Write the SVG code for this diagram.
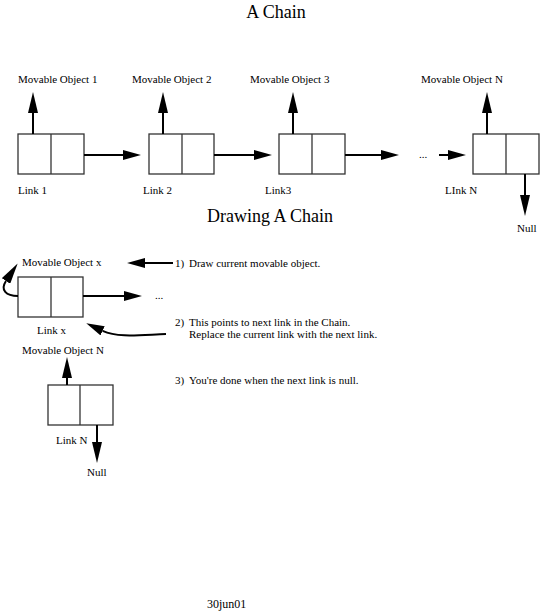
<svg xmlns="http://www.w3.org/2000/svg" width="552" height="612" viewBox="0 0 552 612" font-family="'Liberation Serif', 'DejaVu Serif', serif">
<style>
text{font-family:'Liberation Serif','DejaVu Serif',serif;font-size:11px;fill:#000}
.title{font-size:18px}
.box{fill:#fff;stroke:#333;stroke-width:1.3}
.arr{fill:none;stroke:#000;stroke-width:2}
.av{marker-end:url(#arrowV)}
.ah{marker-end:url(#arrowH)}
</style>
<defs>
<marker id="arrowV" markerUnits="userSpaceOnUse" markerWidth="21" markerHeight="10" viewBox="0 0 21 10" refX="0" refY="5" orient="auto"><path d="M0,0 L21,5 L0,10 z" fill="#000"/></marker>
<marker id="arrowH" markerUnits="userSpaceOnUse" markerWidth="18" markerHeight="10" viewBox="0 0 18 10" refX="0" refY="5" orient="auto"><path d="M0,0 L18,5 L0,10 z" fill="#000"/></marker>
</defs>
<text class="title" x="276" y="18" text-anchor="middle" font-family="Liberation Serif">A Chain</text>
<text class="title" x="270" y="222" text-anchor="middle" font-family="Liberation Serif">Drawing A Chain</text>

<g id="link1" font-family="Liberation Serif"><rect class="box" x="18" y="134" width="66" height="40"/><line class="box" x1="51" y1="134" x2="51" y2="174"/><text x="18" y="194">Link 1</text><text x="18" y="83">Movable Object 1</text></g>
<g id="link2" font-family="Liberation Serif"><rect class="box" x="149" y="134" width="65" height="40"/><line class="box" x1="182" y1="134" x2="182" y2="174"/><text x="143" y="194">Link 2</text><text x="132" y="83">Movable Object 2</text></g>
<g id="link3" font-family="Liberation Serif"><rect class="box" x="279" y="134" width="66" height="40"/><line class="box" x1="312" y1="134" x2="312" y2="174"/><text x="265" y="194">Link3</text><text x="250" y="83">Movable Object 3</text></g>
<g id="linkN" font-family="Liberation Serif"><rect class="box" x="473" y="134" width="66" height="40"/><line class="box" x1="506" y1="134" x2="506" y2="174"/><text x="445" y="194">LInk N</text><text x="421" y="83">Movable Object N</text><text x="517" y="232">Null</text></g>
<g id="dots1" font-family="Liberation Serif"><text x="419" y="158">...</text></g>

<g id="linkx" font-family="Liberation Serif"><rect class="box" x="18" y="277" width="65" height="40"/><line class="box" x1="51" y1="277" x2="51" y2="317"/><text x="22" y="266">Movable Object x</text><text x="37" y="334">Link x</text><text x="155" y="299">...</text></g>
<g id="linkN2" font-family="Liberation Serif"><rect class="box" x="48" y="385" width="65" height="40"/><line class="box" x1="80" y1="385" x2="80" y2="425"/><text x="22" y="354">Movable Object N</text><text x="56" y="444">Link N</text><text x="87" y="476">Null</text></g>

<g id="notes" font-family="Liberation Serif">
<text x="175" y="267">1)</text><text x="189" y="267">Draw current movable object.</text>
<text x="175" y="326">2)</text><text x="189" y="326">This points to next link in the Chain.</text>
<text x="189" y="338">Replace the current link with the next link.</text>
<text x="175" y="384">3)</text><text x="189" y="384">You're done when the next link is null.</text>
</g>
<text x="207" y="608" style="font-size:12px" font-family="Liberation Serif">30jun01</text>

<g id="connectors">
<line class="arr av" x1="33" y1="134" x2="33" y2="113"/>
<line class="arr av" x1="163" y1="134" x2="163" y2="113"/>
<line class="arr av" x1="293" y1="134" x2="293" y2="113"/>
<line class="arr av" x1="487" y1="134" x2="487" y2="113"/>
<line class="arr ah" x1="84" y1="155" x2="123" y2="155"/>
<line class="arr ah" x1="214" y1="155" x2="254" y2="155"/>
<line class="arr ah" x1="345" y1="155" x2="381" y2="155"/>
<line class="arr ah" x1="439" y1="155" x2="448" y2="155"/>
<line class="arr av" x1="525" y1="174" x2="525" y2="195"/>
<line class="arr ah" x1="83" y1="296" x2="124" y2="296"/>
<line class="arr ah" x1="173" y1="263" x2="145" y2="263"/>
<path class="arr av" d="M18,296 C6,296 0,290 6,281"/>
<path class="arr ah" d="M166,334 C140,335 118,338 102.6,330.9"/>
<line class="arr av" x1="67" y1="385" x2="67" y2="378"/>
<line class="arr av" x1="97" y1="425" x2="97" y2="442"/>
</g>
</svg>
